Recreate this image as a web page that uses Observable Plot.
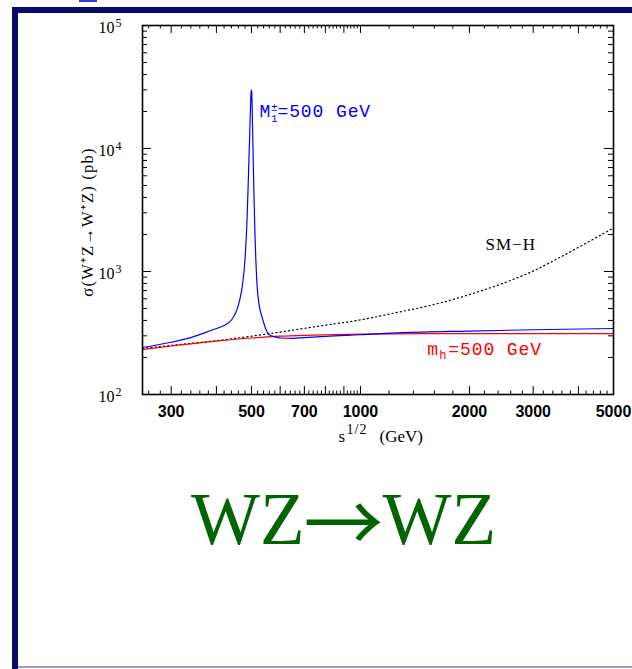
<!DOCTYPE html>
<html><head><meta charset="utf-8">
<script src="https://cdn.jsdelivr.net/npm/d3@7"></script>
<script src="https://cdn.jsdelivr.net/npm/@observablehq/plot@0.6"></script>
<style>
html,body{margin:0;padding:0;background:#fff;width:632px;height:669px;overflow:hidden;}
#wrap{position:relative;width:632px;height:669px;}
#chart{position:absolute;left:0;top:0;}
.bar{position:absolute;background:#0a0a6a;}
</style></head><body>
<div id="wrap"><div id="chart"></div>
<div class="bar" style="left:12px;top:7px;width:620px;height:6px"></div>
<div class="bar" style="left:12px;top:7px;width:6px;height:662px"></div>
<div style="position:absolute;left:18px;top:666px;width:614px;height:2px;background:#9a9ac4"></div>
<div style="position:absolute;left:79px;top:0;width:18px;height:2px;background:#3040d0"></div>
</div>
<script>
// ---- data ----
const sqrtS_red   = [250, 300, 400, 500, 600, 700, 800, 1000, 1500, 2000, 3000, 5000];
const sigma_red   = [232, 248, 272, 288, 298, 303, 306, 310, 312, 313, 313, 313];

const sqrtS_smh   = [250, 300, 400, 500, 600, 700, 800, 1000, 1250, 1500, 1750, 2000, 2500, 3000, 3500, 4000, 4500, 5000];
const sigma_smh   = [237, 251, 274, 298, 322, 345, 366, 404, 462, 516, 578, 649, 811, 1009, 1270, 1570, 1900, 2260];

const sqrtS_blue  = [250, 300, 340, 385, 420, 430, 438, 445, 452, 456, 460, 464, 470, 476, 481, 486, 490, 494, 497, 499, 500,
                     501, 503, 505, 507, 509, 511, 514, 517, 521, 527, 533, 538, 544, 550, 556, 565, 580, 600, 650, 700, 800, 1000, 1300, 2000, 3000, 5000];
const sigma_blue  = [241, 266, 290, 330, 364, 378, 397, 423, 461, 492, 533, 587, 713, 950, 1400, 2600, 5500, 12000, 22000, 29000, 30000,
                     28000, 17000, 9500, 5500, 3300, 2100, 1250, 850, 640, 500, 440, 400, 360, 330, 313, 302, 294, 288, 286, 290, 297, 306, 318, 328, 336, 344];

const xTickLabels = [300, 500, 700, 1000, 2000, 3000, 5000];
const xMajor = [300, 400, 500, 600, 700, 800, 900, 1000, 2000, 3000, 4000, 5000];
const xMinor = d3.range(260, 1000, 20).filter(v => v % 100 !== 0)
  .concat(d3.range(1200, 5000, 200).filter(v => v % 1000 !== 0));
const yTickValues = [100, 1000, 10000, 100000];
const yTickExponents = ["2", "3", "4", "5"];
const yMinor = [2,3,4,5,6,7,8,9].flatMap(m => [m*100, m*1000, m*10000]);

// annotation anchors (data coordinates)
const annM  = {s: 526, v: 17870};
const annMh = {s: 1530, v: 207.6};
const annSM = {s: 2600, v: 1483};

const yLabel = "σ(W⁺Z→W⁺Z) (pb)";
const titleParts = ["WZ", "→", "WZ"];

const toRows = (xs, ys) => xs.map((s, i) => ({s, v: ys[i]}));
const red = toRows(sqrtS_red, sigma_red);
const smh = toRows(sqrtS_smh, sigma_smh);
const blue = toRows(sqrtS_blue, sigma_blue);

const W = 632, H = 669, mt = 25, mb = 275, ml = 142, mr = 19;
const plotW = W - ml - mr, plotH = H - mt - mb;
const cx = ml + plotW / 2;
const serif = "Liberation Serif, Times New Roman, serif";
const mono = "Liberation Mono, DejaVu Sans Mono, monospace";
const sans = "Liberation Sans, Arial, sans-serif";

const txt = (o) => ({lineAnchor: "bottom", fill: "black", ...o});

const chart = Plot.plot({
  width: W, height: H,
  marginTop: mt, marginBottom: mb, marginLeft: ml, marginRight: mr,
  style: {background: "transparent", overflow: "visible"},
  x: {type: "log", domain: [250, 5000], axis: null},
  y: {type: "log", domain: [100, 1e5], axis: null},
  marks: [
    // ticks (inward, all four sides)
    Plot.tickX(xMajor, {x: d => d, insetTop: plotH - 8, stroke: "black"}),
    Plot.tickX(xMajor, {x: d => d, insetBottom: plotH - 8, stroke: "black"}),
    Plot.tickX(xMinor, {x: d => d, insetTop: plotH - 3.5, stroke: "black"}),
    Plot.tickX(xMinor, {x: d => d, insetBottom: plotH - 3.5, stroke: "black"}),
    Plot.tickY(yTickValues, {y: d => d, insetRight: plotW - 9, stroke: "black"}),
    Plot.tickY(yTickValues, {y: d => d, insetLeft: plotW - 9, stroke: "black"}),
    Plot.tickY(yMinor, {y: d => d, insetRight: plotW - 5, stroke: "black"}),
    Plot.tickY(yMinor, {y: d => d, insetLeft: plotW - 5, stroke: "black"}),
    // curves
    Plot.line(smh, {x: "s", y: "v", stroke: "black", strokeWidth: 1.2, strokeDasharray: "1.2,3", curve: "monotone-x"}),
    Plot.line(red, {x: "s", y: "v", stroke: "#ff0000", strokeWidth: 1.2, curve: "monotone-x"}),
    Plot.line(blue, {x: "s", y: "v", stroke: "#0000ff", strokeWidth: 1.2, curve: "monotone-x"}),
    Plot.frame({stroke: "black", strokeWidth: 1.6}),
    // x tick labels
    Plot.text(xTickLabels, txt({x: d => d, frameAnchor: "bottom", dy: 22, text: d => String(d), fontSize: 16, fontWeight: "bold", fontFamily: sans, textAnchor: "middle"})),
    // y tick labels 10^k
    Plot.text(yTickValues, txt({y: d => d, frameAnchor: "left", dx: -28, dy: 7, text: () => "10", fontSize: 16, fontFamily: serif, textAnchor: "end"})),
    Plot.text(yTickValues, txt({y: d => d, frameAnchor: "left", dx: -27, dy: 1, text: (d, i) => yTickExponents[i], fontSize: 12, fontFamily: serif, textAnchor: "start"})),
    // axis labels
    Plot.text([yLabel], {frameAnchor: "left", dx: -55, dy: 12, rotate: -90, text: d => d, fontSize: 16.5, fontFamily: serif, textAnchor: "middle", lineAnchor: "middle", fill: "black", ariaDescription: "ylabel"}),
    Plot.text(["s"], txt({frameAnchor: "bottom", dx: 338 - cx, dy: 47, text: d => d, fontSize: 17, fontFamily: serif, textAnchor: "start"})),
    Plot.text(["1/2"], txt({frameAnchor: "bottom", dx: 346 - cx, dy: 39, text: d => d, fontSize: 14, fontFamily: serif, textAnchor: "start", ariaDescription: "sup"})),
    Plot.text(["(GeV)"], txt({frameAnchor: "bottom", dx: 379 - cx, dy: 47, text: d => d, fontSize: 17, fontFamily: serif, textAnchor: "start"})),
    // annotations
    Plot.text([annM], txt({x: "s", y: "v", text: () => "M", fontSize: 18, fontFamily: mono, fill: "#0000ff", textAnchor: "start"})),
    Plot.text([annM], txt({x: "s", y: "v", dx: 11.5, dy: -6, text: () => "±", fontSize: 11, fontFamily: mono, fill: "#0000ff", textAnchor: "start"})),
    Plot.text([annM], txt({x: "s", y: "v", dx: 11.5, dy: 5, text: () => "1", fontSize: 11, fontFamily: mono, fill: "#0000ff", textAnchor: "start"})),
    Plot.text([annM], txt({x: "s", y: "v", dx: 18, text: () => "=500 GeV", fontSize: 18, fontFamily: mono, fill: "#0000ff", textAnchor: "start", ariaDescription: "spaced"})),
    Plot.text([annMh], txt({x: "s", y: "v", text: () => "m", fontSize: 18, fontFamily: mono, fill: "#ff0000", textAnchor: "start"})),
    Plot.text([annMh], txt({x: "s", y: "v", dx: 12, dy: 4, text: () => "h", fontSize: 12, fontFamily: mono, fill: "#ff0000", textAnchor: "start"})),
    Plot.text([annMh], txt({x: "s", y: "v", dx: 21, text: () => "=500 GeV", fontSize: 18, fontFamily: mono, fill: "#ff0000", textAnchor: "start", ariaDescription: "spaced"})),
    Plot.text([annSM], txt({x: "s", y: "v", text: () => "SM−H", fontSize: 17, fontFamily: serif, textAnchor: "middle", ariaDescription: "smh"})),
    // slide title WZ→WZ
    Plot.text([titleParts[0]], txt({frameAnchor: "bottom", dx: 304 - cx, dy: 543 - 394, text: d => d, fontSize: 73, fontFamily: serif, fill: "#006400", textAnchor: "end"})),
    Plot.text([titleParts[1]], txt({frameAnchor: "bottom", dx: 343 - cx, dy: 551 - 394, text: d => d, fontSize: 80, fontFamily: "Noto Sans CJK JP, DejaVu Sans, sans-serif", fill: "#006400", textAnchor: "middle"})),
    Plot.text([titleParts[2]], txt({frameAnchor: "bottom", dx: 382 - cx, dy: 543 - 394, text: d => d, fontSize: 73, fontFamily: serif, fill: "#006400", textAnchor: "start"}))
  ]
});
document.getElementById("chart").appendChild(chart);
const svg = d3.select(chart);
svg.selectAll('g[aria-description="ylabel"] text').style("letter-spacing", "1.2px");
svg.selectAll('g[aria-description="spaced"] text').style("letter-spacing", "0.9px");
svg.selectAll('g[aria-description="sup"] text').style("letter-spacing", "1px");
svg.selectAll('g[aria-description="smh"] text').style("letter-spacing", "1px");
</script>
</body></html>
